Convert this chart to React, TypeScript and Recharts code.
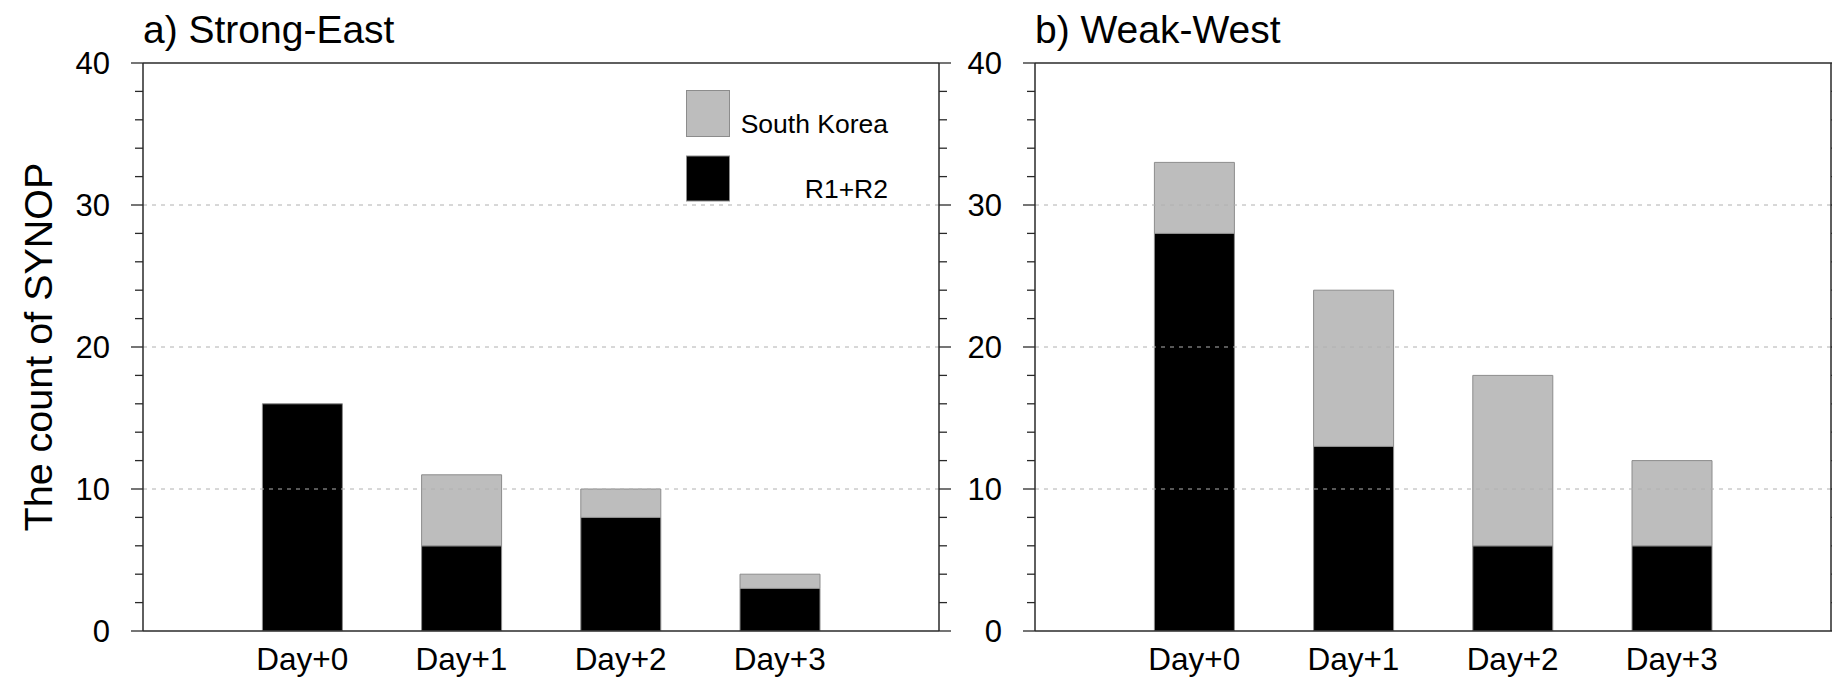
import React from 'react';
import { BarChart, Bar, XAxis, YAxis, ReferenceLine, Legend } from 'recharts';

const categories = ['Day+0', 'Day+1', 'Day+2', 'Day+3'];
const strongEastR1R2 = [16, 6, 8, 3];
const strongEastSouthKorea = [0, 5, 2, 1];
const weakWestR1R2 = [28, 13, 6, 6];
const weakWestSouthKorea = [5, 11, 12, 6];
const yTicks = [0, 2, 4, 6, 8, 10, 12, 14, 16, 18, 20, 22, 24, 26, 28, 30, 32, 34, 36, 38, 40];
const majorTicks = [0, 10, 20, 30, 40];
const gridValues = [10, 20, 30];
const panelTitles = ['a) Strong-East', 'b) Weak-West'];
const seriesNames = ['South Korea', 'R1+R2'];
const yLabel = 'The count of SYNOP';

const FONT = '"Liberation Sans", Arial, Helvetica, sans-serif';
const AXIS = '#2a2a2a';
const GRAY = '#bdbdbd';
const EDGE = '#8c8c8c';

const W = 959;
const H = 681;
const PLOT_W = 796;

function buildRows(r: number[], s: number[]) {
  return categories.map((c, i) => ({ day: c, r1r2: r[i], sk: s[i] }));
}

const LeftTick = (props: any) => {
  const { x, y, payload } = props;
  const v = payload.value;
  const major = majorTicks.includes(v);
  return (
    <g>
      <line x1={x} x2={x - (major ? 12 : 8)} y1={y} y2={y} stroke={AXIS} strokeWidth={1.3} />
      {major && (
        <text x={x - 33} y={y} dy="0.36em" textAnchor="end" fontSize={31} fontFamily={FONT} fill="#000">
          {v}
        </text>
      )}
    </g>
  );
};

const RightTick = (props: any) => {
  const { x, y, payload } = props;
  const major = majorTicks.includes(payload.value);
  return <line x1={x} x2={x + (major ? 12 : 8)} y1={y} y2={y} stroke={AXIS} strokeWidth={1.3} />;
};

const LegendBox = () => (
  <svg width={210} height={115} style={{ display: 'block' }}>
    <rect x={0.5} y={0.5} width={43} height={46} fill={GRAY} stroke={EDGE} strokeWidth={1} />
    <rect x={0.5} y={66} width={43} height={45} fill="#000" stroke={EDGE} strokeWidth={1} />
    <text x={202} y={43} textAnchor="end" fontSize={26.5} fontFamily={FONT} fill="#000">
      {seriesNames[0]}
    </text>
    <text x={202} y={108} textAnchor="end" fontSize={26.5} fontFamily={FONT} fill="#000">
      {seriesNames[1]}
    </text>
  </svg>
);

const YLabelContent = (p: any) => {
  const vb = p.viewBox || { x: 0, y: 63, width: 143, height: 568 };
  const cx = (vb.x ?? 0) + 38;
  const cy = (vb.y ?? 63) + (vb.height ?? 568) / 2;
  return (
    <text
      x={cx}
      y={cy}
      transform={`rotate(-90, ${cx}, ${cy})`}
      textAnchor="middle"
      dominantBaseline="central"
      fontSize={39.5}
      fontFamily={FONT}
      fill="#000"
    >
      {yLabel}
    </text>
  );
};

function Panel(props: { rows: any[]; title: string; left: number; showLegend: boolean; showYLabel: boolean }) {
  const { rows, title, left, showLegend, showYLabel } = props;
  return (
    <div style={{ position: 'absolute', left, top: 0, width: W, height: H }}>
      <div
        style={{
          position: 'absolute',
          left: 143,
          top: 10,
          fontFamily: FONT,
          fontSize: 39,
          lineHeight: 1,
          color: '#000',
          whiteSpace: 'nowrap',
        }}
      >
        {title}
      </div>
      <BarChart
        width={W}
        height={H}
        data={rows}
        margin={{ top: 63, right: 0, bottom: 0, left: 0 }}
        barCategoryGap="25%"
      >
        <XAxis
          dataKey="day"
          xAxisId="x"
          tickLine={false}
          tickSize={0}
          tickMargin={17}
          height={50}
          padding={{ left: PLOT_W / 10, right: PLOT_W / 10 }}
          axisLine={{ stroke: AXIS, strokeWidth: 1.5 }}
          tick={{ fontSize: 31.5, fontFamily: FONT, fill: '#000' }}
        />
        <YAxis
          yAxisId="left"
          orientation="left"
          domain={[0, 40]}
          ticks={yTicks}
          interval={0}
          allowDataOverflow
          width={143}
          tickSize={0}
          tickMargin={0}
          tickLine={false}
          tick={<LeftTick />}
          axisLine={{ stroke: AXIS, strokeWidth: 1.5 }}
          label={showYLabel ? { content: YLabelContent } : undefined}
        />
        <YAxis
          yAxisId="right"
          orientation="right"
          domain={[0, 40]}
          ticks={yTicks}
          interval={0}
          allowDataOverflow
          width={20}
          tickSize={0}
          tickMargin={0}
          tickLine={false}
          tick={<RightTick />}
          axisLine={{ stroke: AXIS, strokeWidth: 1.5 }}
        />
        {gridValues.map((v) => (
          <ReferenceLine
            key={v}
            y={v}
            yAxisId="left"
            xAxisId="x"
            stroke="#b0b0b0"
            strokeWidth={1}
            strokeDasharray="4 5"
          />
        ))}
        <ReferenceLine y={40} yAxisId="left" xAxisId="x" stroke={AXIS} strokeWidth={1.5} />
        <Bar
          dataKey="r1r2"
          name={seriesNames[1]}
          stackId="s"
          xAxisId="x"
          yAxisId="left"
          fill="#000"
          stroke={EDGE}
          strokeWidth={1}
          isAnimationActive={false}
        />
        <Bar
          dataKey="sk"
          name={seriesNames[0]}
          stackId="s"
          xAxisId="x"
          yAxisId="left"
          fill={GRAY}
          stroke={EDGE}
          strokeWidth={1}
          isAnimationActive={false}
        />
        {showLegend && (
          <Legend
            layout="horizontal"
            verticalAlign="middle"
            align="center"
            content={() => <LegendBox />}
            wrapperStyle={{ position: 'absolute', left: 686, top: 90, width: 210, height: 115 }}
          />
        )}
      </BarChart>
    </div>
  );
}

export default function App() {
  return (
    <div
      style={{
        position: 'absolute',
        left: 0,
        top: 0,
        width: 1832,
        height: 681,
        overflow: 'hidden',
        background: '#fff',
      }}
    >
      <Panel
        rows={buildRows(strongEastR1R2, strongEastSouthKorea)}
        title={panelTitles[0]}
        left={0}
        showLegend={true}
        showYLabel={true}
      />
      <Panel
        rows={buildRows(weakWestR1R2, weakWestSouthKorea)}
        title={panelTitles[1]}
        left={892}
        showLegend={false}
        showYLabel={false}
      />
    </div>
  );
}
